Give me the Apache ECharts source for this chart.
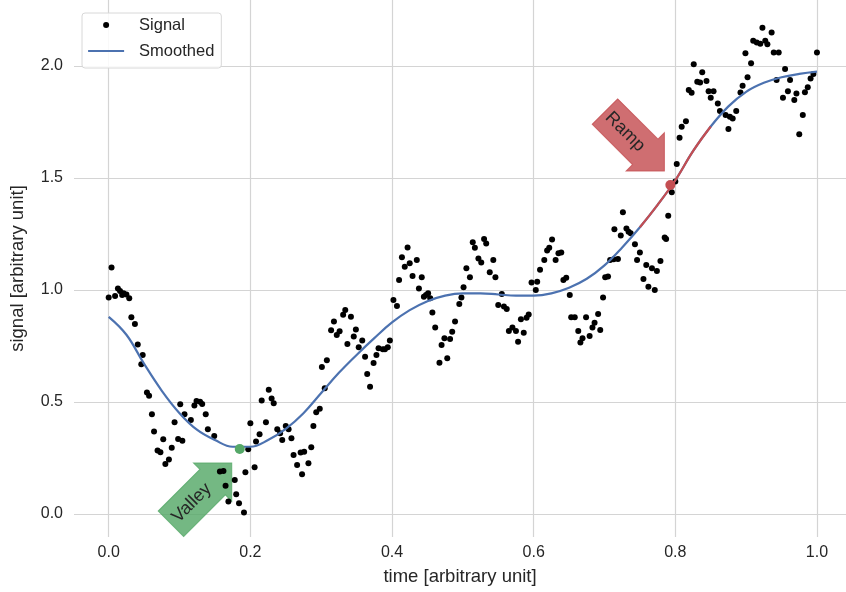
<!DOCTYPE html>
<html>
<head>
<meta charset="utf-8">
<script src="https://cdn.jsdelivr.net/npm/echarts@6/dist/echarts.min.js"></script>
<style>
  html, body { margin: 0; padding: 0; background: #fff; }
  #chart { width: 846px; height: 592px; }
</style>
</head>
<body>
<div id="chart"></div>
<script>
// raw signal
var sigX = [0.000,0.004,0.009,0.013,0.016,0.019,0.021,0.025,0.029,0.032,0.037,0.041,0.046,0.048,0.054,0.057,0.061,0.064,0.069,0.073,
  0.077,0.080,0.085,0.089,0.093,0.098,0.101,0.104,0.107,0.116,0.121,0.124,0.129,0.132,0.137,0.140,0.149,0.157,0.162,0.165,
  0.169,0.178,0.180,0.184,0.191,0.193,0.197,0.200,0.206,0.208,0.213,0.216,0.222,0.226,0.230,0.233,0.238,0.242,0.245,0.250,
  0.254,0.258,0.261,0.266,0.271,0.273,0.276,0.282,0.286,0.289,0.293,0.298,0.301,0.305,0.308,0.314,0.318,0.322,0.326,0.331,
  0.334,0.337,0.342,0.346,0.349,0.353,0.358,0.362,0.365,0.369,0.374,0.378,0.381,0.387,0.390,0.394,0.397,0.402,0.407,0.410,
  0.414,0.418,0.422,0.425,0.429,0.435,0.438,0.442,0.445,0.448,0.451,0.454,0.457,0.461,0.467,0.470,0.474,0.478,0.482,0.485,
  0.489,0.495,0.498,0.501,0.505,0.510,0.514,0.517,0.522,0.526,0.530,0.533,0.538,0.543,0.546,0.550,0.555,0.558,0.562,0.565,
  0.570,0.575,0.578,0.582,0.586,0.590,0.593,0.597,0.603,0.605,0.609,0.615,0.619,0.622,0.626,0.631,0.635,0.639,0.642,0.646,
  0.651,0.653,0.658,0.663,0.666,0.669,0.674,0.679,0.683,0.686,0.691,0.694,0.698,0.701,0.705,0.708,0.713,0.714,0.719,0.723,
  0.726,0.731,0.734,0.737,0.743,0.746,0.750,0.755,0.759,0.762,0.767,0.771,0.774,0.779,0.785,0.787,0.790,0.795,0.800,0.802,
  0.806,0.809,0.815,0.819,0.823,0.826,0.831,0.835,0.838,0.844,0.847,0.850,0.854,0.860,0.863,0.871,0.875,0.877,0.881,0.886,
  0.892,0.895,0.899,0.902,0.907,0.910,0.915,0.920,0.923,0.927,0.930,0.936,0.939,0.943,0.946,0.952,0.955,0.959,0.962,0.968,
  0.971,0.975,0.980,0.983,0.987,0.991,0.995,1.000];
var sigY = [0.966,1.100,0.973,1.007,0.995,0.978,0.985,0.980,0.963,0.878,0.848,0.757,0.668,0.710,0.542,0.528,0.445,0.368,0.283,0.275,
  0.333,0.223,0.243,0.296,0.409,0.335,0.490,0.327,0.445,0.420,0.484,0.504,0.501,0.491,0.445,0.378,0.348,0.189,0.192,0.126,
  0.055,0.152,0.088,0.048,0.006,0.186,0.289,0.405,0.208,0.323,0.356,0.506,0.409,0.554,0.516,0.494,0.378,0.360,0.330,0.393,
  0.378,0.338,0.263,0.219,0.274,0.177,0.278,0.226,0.298,0.393,0.454,0.470,0.656,0.561,0.686,0.820,0.859,0.799,0.816,0.890,
  0.911,0.759,0.881,0.792,0.824,0.744,0.774,0.702,0.625,0.568,0.674,0.710,0.740,0.735,0.735,0.744,0.775,0.955,0.929,1.045,
  1.146,1.104,1.190,1.119,1.063,1.134,1.007,1.057,0.970,0.978,0.985,0.963,0.899,0.832,0.675,0.754,0.784,0.695,0.781,0.814,
  0.859,0.938,0.966,1.012,1.097,1.057,1.213,1.189,1.141,1.123,1.228,1.208,1.079,1.134,1.057,0.933,0.982,0.926,0.915,0.817,
  0.832,0.817,0.769,0.869,0.809,0.876,0.891,1.034,1.000,1.037,1.090,1.134,1.176,1.189,1.226,1.134,1.164,1.168,1.045,1.055,
  0.978,0.878,0.878,0.817,0.765,0.784,0.878,0.795,0.832,0.854,0.893,0.821,0.966,1.057,1.060,1.134,1.137,1.271,1.138,1.243,
  1.347,1.275,1.260,1.253,1.204,1.134,1.168,1.049,1.112,1.015,1.097,1.000,1.085,1.129,1.234,1.228,1.332,1.436,1.484,1.563,
  1.680,1.729,1.754,1.893,1.881,2.008,1.930,1.927,1.972,1.933,1.888,1.859,1.888,1.833,1.799,1.781,1.719,1.774,1.766,1.799,
  1.882,1.912,2.057,1.950,2.012,2.113,2.105,2.100,2.171,2.113,2.097,2.150,2.061,1.938,2.061,1.859,1.987,1.888,1.938,1.848,
  1.878,1.696,1.781,1.883,1.905,1.945,1.964,2.061];

// smoothed curve
var smoothX = [0,0.025,0.05,0.075,0.1,0.125,0.15,0.175,0.2,0.225,0.25,0.275,0.3,0.325,0.35,0.375,0.4,0.425,0.45,0.475,
  0.5,0.525,0.55,0.575,0.6,0.625,0.65,0.675,0.7,0.725,0.75,0.775,0.8,0.825,0.85,0.875,0.9,0.925,0.95,0.975,1.0];
var smoothY = [0.88,0.80,0.67,0.55,0.45,0.375,0.33,0.30,0.30,0.33,0.38,0.45,0.54,0.63,0.71,0.785,0.855,0.91,0.95,0.975,
  0.985,0.985,0.98,0.975,0.975,0.985,1.01,1.05,1.11,1.19,1.28,1.38,1.49,1.62,1.73,1.82,1.885,1.925,1.95,1.965,1.975];

var rampRange = [0.75, 0.85];
var valleyPoint = [0.185, 0.29];
var rampPoint = [0.793, 1.469];

var xTicks = [0, 0.2, 0.4, 0.6, 0.8, 1.0];
var yTicks = [0, 0.5, 1.0, 1.5, 2.0];

var blue = '#4c72b0', red = '#c44e52', green = '#55a868';
var textColor = '#262626', gridColor = '#d4d4d4';
var font = '"Liberation Sans", Arial, sans-serif';

var signalData = sigX.map(function (x, i) { return [x, sigY[i]]; });
var smoothData = smoothX.map(function (x, i) { return [x, smoothY[i]]; });
var rampData = smoothData.filter(function (p) { return p[0] >= rampRange[0] && p[0] <= rampRange[1]; });

var myChart = echarts.init(document.getElementById('chart'));

var option = {
    backgroundColor: '#fff',
    animation: false,
    textStyle: { fontFamily: font },
    grid: { left: 72, right: 0, top: 0, bottom: 55 },
    legend: {
        orient: 'vertical',
        left: 82, top: 13,
        padding: [3, 7, 8, 5],
        itemWidth: 36, itemHeight: 6, itemGap: 8,
        borderColor: '#d8d8d8', borderWidth: 1, borderRadius: 3,
        backgroundColor: 'rgba(255,255,255,0.85)',
        textStyle: { color: textColor, fontSize: 16.5, lineHeight: 18, padding: [0, 0, 0, 10] },
        data: [
            { name: 'Signal', icon: 'circle', itemStyle: { color: '#000', opacity: 1 } },
            { name: 'Smoothed', itemStyle: { opacity: 0 }, lineStyle: { color: blue, width: 2.2 } }
        ]
    },
    xAxis: {
        type: 'value',
        min: -0.049, max: 1.041,
        name: 'time [arbitrary unit]',
        nameLocation: 'middle', nameGap: 30,
        nameTextStyle: { color: textColor, fontSize: 18.5 },
        axisLine: { show: false },
        axisTick: { show: false, customValues: xTicks },
        axisLabel: { customValues: xTicks, color: textColor, fontSize: 16, margin: 8,
            formatter: function (v) { return v.toFixed(1); } },
        splitLine: { show: true, lineStyle: { color: gridColor, width: 1.2 } }
    },
    yAxis: {
        type: 'value',
        min: -0.103, max: 2.295,
        name: 'signal [arbitrary unit]',
        nameLocation: 'middle', nameGap: 47,
        nameTextStyle: { color: textColor, fontSize: 18.5 },
        axisLine: { show: false },
        axisTick: { show: false, customValues: yTicks },
        axisLabel: { customValues: yTicks, color: textColor, fontSize: 16, margin: 11,
            formatter: function (v) { return v.toFixed(1); } },
        splitLine: { show: true, lineStyle: { color: gridColor, width: 1.2 } }
    },
    series: [
        {
            name: 'Signal', type: 'scatter', data: signalData,
            symbolSize: 6, itemStyle: { color: '#000', opacity: 1 }, z: 2
        },
        {
            name: 'Smoothed', type: 'line', data: smoothData, smooth: 0.4,
            symbol: 'none', lineStyle: { color: blue, width: 2.2 }, itemStyle: { color: blue }, z: 3
        },
        {
            name: 'ramp', type: 'line', data: rampData, smooth: 0.4,
            symbol: 'none', lineStyle: { color: red, width: 2.2 }, z: 4
        },
        {
            name: 'marks', type: 'scatter', symbolSize: 10, z: 5,
            data: [
                { value: valleyPoint, itemStyle: { color: green, opacity: 1 } },
                { value: rampPoint, itemStyle: { color: red, opacity: 1 } }
            ]
        }
    ]
};

myChart.setOption(option);

// fat arrow boxes pointing at the two marked points
function arrowBox(pt, dx, dy, angle, len, color, label) {
    var p = myChart.convertToPixel({ gridIndex: 0 }, pt);
    var b = 18, head = 27;
    return {
        type: 'group',
        x: p[0] + dx, y: p[1] + dy,
        rotation: angle,
        z: 100,
        children: [
            {
                type: 'polygon',
                shape: { points: [[0, 0], [-head, -head], [-head, -b], [-len, -b], [-len, b], [-head, b], [-head, head]] },
                style: { fill: color, stroke: color, lineWidth: 1, opacity: 0.82 }
            },
            {
                type: 'text',
                x: -(len + head) / 2, y: 0,
                style: { text: label, fill: textColor, font: '18px ' + font, align: 'center', verticalAlign: 'middle' }
            }
        ]
    };
}

myChart.setOption({
    graphic: [
        arrowBox(rampPoint, -6, -14, -Math.PI / 4, 84, red, 'Ramp'),
        arrowBox(valleyPoint, -8, 14, Math.PI / 4, 86, green, 'Valley')
    ]
});
</script>
</body>
</html>
